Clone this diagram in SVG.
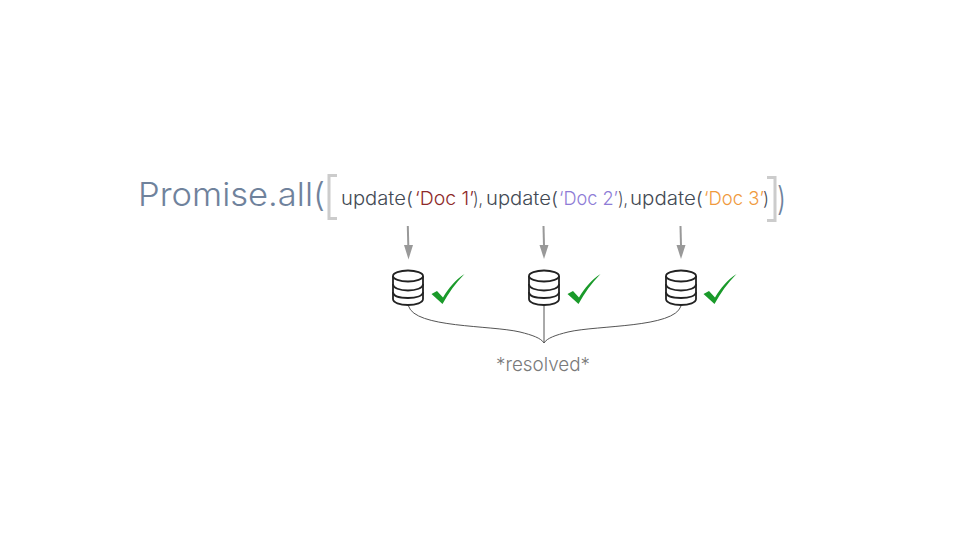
<svg xmlns="http://www.w3.org/2000/svg" width="960" height="540" viewBox="0 0 960 540">
<style>
text{font-family:"Inter","Open Sans","Liberation Sans",sans-serif}
.big{font-size:33px;font-weight:300;fill:#6f829c}
.code{font-size:18.500px;font-weight:300;fill:#434a54}
.brk{fill:none;stroke:#cccccc;stroke-width:3}
.arr{fill:none;stroke:#999999;stroke-width:2}
.head{fill:#999999}
.brace{fill:none;stroke:#555555;stroke-width:1}
.db{fill:#fff;stroke:#222222;stroke-width:1.800}
.chk{fill:#1a9a2a}
</style>
<defs>
<g id="dbi">
<path class="db" d="M0,6 V29 C0,32.500 6.700,35 15,35 C23.300,35 30,32.500 30,29 V6"/>
<ellipse class="db" cx="15" cy="6" rx="15" ry="5.500"/>
<path class="db" fill="none" d="M0,14 C0,18 6.700,20.500 15,20.500 C23.300,20.500 30,18 30,14"/>
<path class="db" fill="none" d="M0,22 C0,26 6.700,28 15,28 C23.300,28 30,26 30,22"/>
</g>
<path id="chki" class="chk" d="M0,20 L5.500,17 L11.500,23.500 C17,14 24,6 33,0 C24,9 17,19 11,30 Z"/>
</defs>
<g id="title">
<text class="big" x="138" y="205.500" textLength="187" lengthAdjust="spacingAndGlyphs">Promise.all(</text>
<path class="brk" d="M337,175.500 H329 V218.500 H337"/>
<path class="brk" d="M767,177.500 H775 V220.500 H767"/>
<text class="big" x="777" y="210" textLength="9" lengthAdjust="spacingAndGlyphs">)</text>
</g>
<g id="code">
<text class="code" x="341" y="205" textLength="72" lengthAdjust="spacingAndGlyphs">update(</text>
<text class="code" x="415" y="205" textLength="59" lengthAdjust="spacingAndGlyphs" style="fill:#8e2a2a">‘Doc 1’</text>
<text class="code" x="473" y="205" textLength="10" lengthAdjust="spacingAndGlyphs">),</text>
<text class="code" x="486" y="205" textLength="72" lengthAdjust="spacingAndGlyphs">update(</text>
<text class="code" x="559" y="205" textLength="59" lengthAdjust="spacingAndGlyphs" style="fill:#8e7cd6">‘Doc 2’</text>
<text class="code" x="618" y="205" textLength="10" lengthAdjust="spacingAndGlyphs">),</text>
<text class="code" x="630" y="205" textLength="73" lengthAdjust="spacingAndGlyphs">update(</text>
<text class="code" x="704" y="205" textLength="60" lengthAdjust="spacingAndGlyphs" style="fill:#f09a3e">‘Doc 3’</text>
<text class="code" x="763" y="205" textLength="6" lengthAdjust="spacingAndGlyphs">)</text>
</g>
<g id="connectors">
<path class="arr" d="M407.800,226 L408.300,246"/><path class="head" d="M404,245 H413 L408.500,259.500 Z"/>
<path class="arr" d="M543.500,226 L544,246"/><path class="head" d="M539.500,245 H548.500 L544,259 Z"/>
<path class="arr" d="M680.500,226 L681,246"/><path class="head" d="M676.500,245 H685.500 L681,259 Z"/>
<path class="brace" d="M408.500,306 C415,328 490,325 520,332 C532,335 541,338 544,343 C547,338 556,335 568,332 C598,325 674,328 681,306"/>
<path class="brace" d="M544,306 V343"/>
</g>
<g id="db1"><use href="#dbi" x="393" y="270"/></g>
<g id="db2"><use href="#dbi" x="529" y="270"/></g>
<g id="db3"><use href="#dbi" x="666" y="270"/></g>
<g id="check1"><use href="#chki" x="431.500" y="274"/></g>
<g id="check2"><use href="#chki" x="567.500" y="274"/></g>
<g id="check3"><use href="#chki" x="703.500" y="274"/></g>
<g id="label"><text x="496" y="371" textLength="94" lengthAdjust="spacingAndGlyphs" style="font-size:19px;font-weight:300;fill:#7a7a7a">*resolved*</text></g>
</svg>
